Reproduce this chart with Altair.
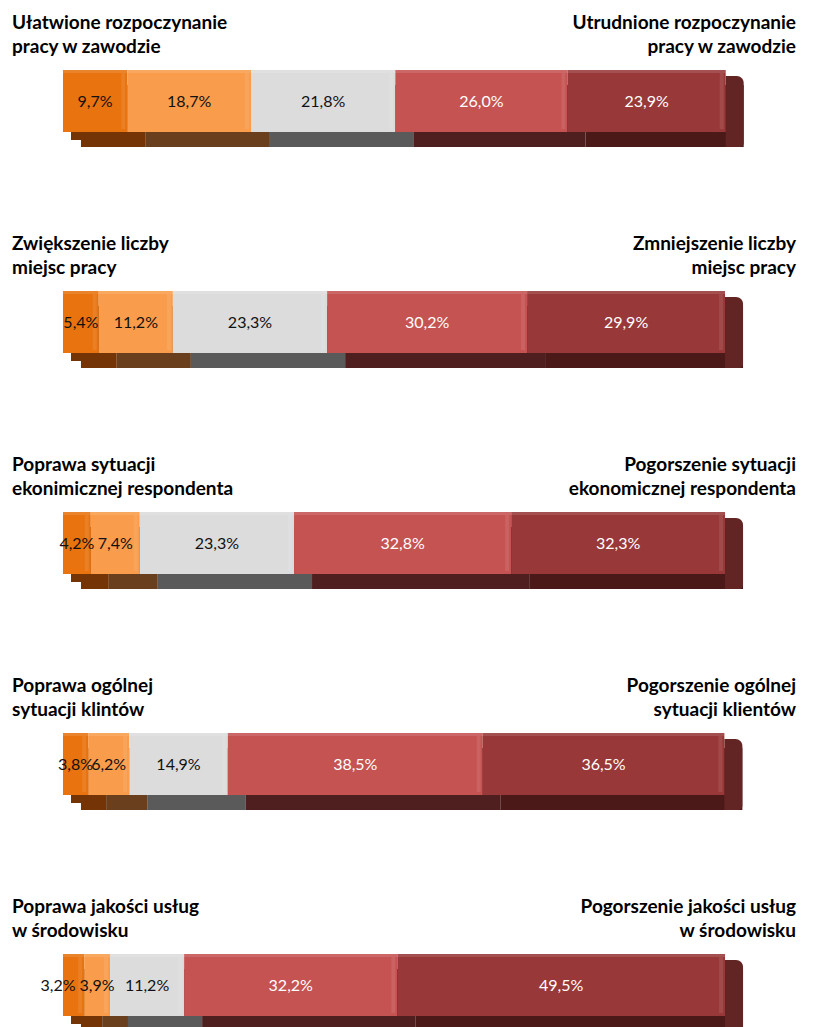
import altair as alt
import pandas as pd

# ---- data ----
left_labels = [
    "Ułatwione rozpoczynanie\npracy w zawodzie",
    "Zwiększenie liczby\nmiejsc pracy",
    "Poprawa sytuacji\nekonimicznej respondenta",
    "Poprawa ogólnej\nsytuacji klintów",
    "Poprawa jakości usług\nw środowisku",
]
right_labels = [
    "Utrudnione rozpoczynanie\npracy w zawodzie",
    "Zmniejszenie liczby\nmiejsc pracy",
    "Pogorszenie sytuacji\nekonomicznej respondenta",
    "Pogorszenie ogólnej\nsytuacji klientów",
    "Pogorszenie jakości usług\nw środowisku",
]
categories = ["k1", "k2", "k3", "k4", "k5"]
values_1 = [9.7, 18.7, 21.8, 26.0, 23.9]
values_2 = [5.4, 11.2, 23.3, 30.2, 29.9]
values_3 = [4.2, 7.4, 23.3, 32.8, 32.3]
values_4 = [3.8, 6.2, 14.9, 38.5, 36.5]
values_5 = [3.2, 3.9, 11.2, 32.2, 49.5]
all_values = [values_1, values_2, values_3, values_4, values_5]

# ---- styles ----
front_colors = ["#E8730F", "#F99C4B", "#DCDCDC", "#C45351", "#993838"]
back_colors = ["#743405", "#6A3F1E", "#5A5A5A", "#4E1F1E", "#4A1918"]
text_colors = ["#111111", "#111111", "#111111", "#FFFFFF", "#FFFFFF"]
side_color = "#632523"
FONT = "Lato"

PLOT_W = 784
DOMAIN = [-7.70, 110.72]
PX_PER_UNIT = PLOT_W / (DOMAIN[1] - DOMAIN[0])

rows = []
for qi, vals in enumerate(all_values):
    s = 0.0
    for c, v in zip(categories, vals):
        rows.append({
            "q": qi, "cat": c, "value": v, "start": s, "end": s + v,
            "mid": s + v / 2,
            "label": f"{v:.1f}".replace(".", ",") + "%",
        })
        s += v
df = pd.DataFrame(rows)
# label anchor: nudge the first label left when it would collide with the next one
df["lx"] = df["mid"]
for qi in range(len(all_values)):
    idx = df.index[df.q == qi]
    gap_px = (df.loc[idx[1], "mid"] - df.loc[idx[0], "mid"]) * PX_PER_UNIT
    if gap_px < 30:
        df.loc[idx[0], "lx"] = df.loc[idx[1], "mid"] - 39 / PX_PER_UNIT

tdf = pd.DataFrame({"q": range(5), "left": left_labels, "right": right_labels})

xs = alt.Scale(domain=DOMAIN)
BT, BB = 62, 124


def panel(i):
    d = df[df.q == i]
    first = d[d.cat == categories[0]]
    last = d[d.cat == categories[-1]]
    base = alt.Chart(d)
    X = alt.X("start:Q", scale=xs, axis=None)
    back = base.mark_rect(xOffset=18, x2Offset=18, yOffset=15, y2Offset=15).encode(
        x=X, x2="end:Q", y=alt.value(BT), y2=alt.value(BB),
        color=alt.Color("cat:N", scale=alt.Scale(domain=categories, range=back_colors), legend=None),
    )
    corner = alt.Chart(first).mark_rect(xOffset=8, x2Offset=18, color=back_colors[0]).encode(
        x=alt.X("start:Q", scale=xs, axis=None), x2="start:Q",
        y=alt.value(BB), y2=alt.value(BB + 8),
    )
    side = alt.Chart(last).mark_rect(x2Offset=18, cornerRadiusTopRight=7, cornerRadiusBottomRight=4,
                                     color=side_color).encode(
        x=alt.X("end:Q", scale=xs, axis=None), x2="end:Q",
        y=alt.value(BT + 6), y2=alt.value(BB + 15),
    )
    front = base.mark_rect().encode(
        x=X, x2="end:Q", y=alt.value(BT), y2=alt.value(BB),
        color=alt.Color("cat:N", scale=alt.Scale(domain=categories, range=front_colors), legend=None),
    )
    hl = base.mark_rect(xOffset=-6, x2Offset=-2, color="white", opacity=0.09).encode(
        x=alt.X("end:Q", scale=xs, axis=None), x2="end:Q",
        y=alt.value(BT + 3), y2=alt.value(BB - 3),
    )
    top_hl = base.mark_rect(color="white", opacity=0.12).encode(
        x=X, x2="end:Q", y=alt.value(BT), y2=alt.value(BT + 3),
    )
    labels = base.mark_text(font=FONT, fontSize=16, baseline="middle").encode(
        x=alt.X("lx:Q", scale=xs, axis=None), y=alt.value((BT + BB) / 2 + 1),
        text="label:N",
        color=alt.Color("cat:N", scale=alt.Scale(domain=categories, range=text_colors), legend=None),
    )
    t = alt.Chart(tdf[tdf.q == i])
    lt = t.mark_text(font=FONT, fontSize=19, fontWeight="bold", align="left",
                     baseline="alphabetic", lineBreak="\n", lineHeight=24, color="#000000").encode(
        x=alt.value(0), y=alt.value(21), text="left:N")
    rt = t.mark_text(font=FONT, fontSize=19, fontWeight="bold", align="right",
                     baseline="alphabetic", lineBreak="\n", lineHeight=24, color="#000000").encode(
        x=alt.value(PLOT_W), y=alt.value(21), text="right:N")
    return alt.layer(back, corner, side, front, hl, top_hl, labels, lt, rt).resolve_scale(
        color="independent").properties(width=PLOT_W, height=150)


chart = alt.vconcat(*[panel(i) for i in range(5)], spacing=71).properties(
    padding={"left": 12, "top": 8, "right": 20, "bottom": 0}
).configure_view(strokeWidth=0)

chart.save("out.html", embed_options={"renderer": "svg", "actions": False})
